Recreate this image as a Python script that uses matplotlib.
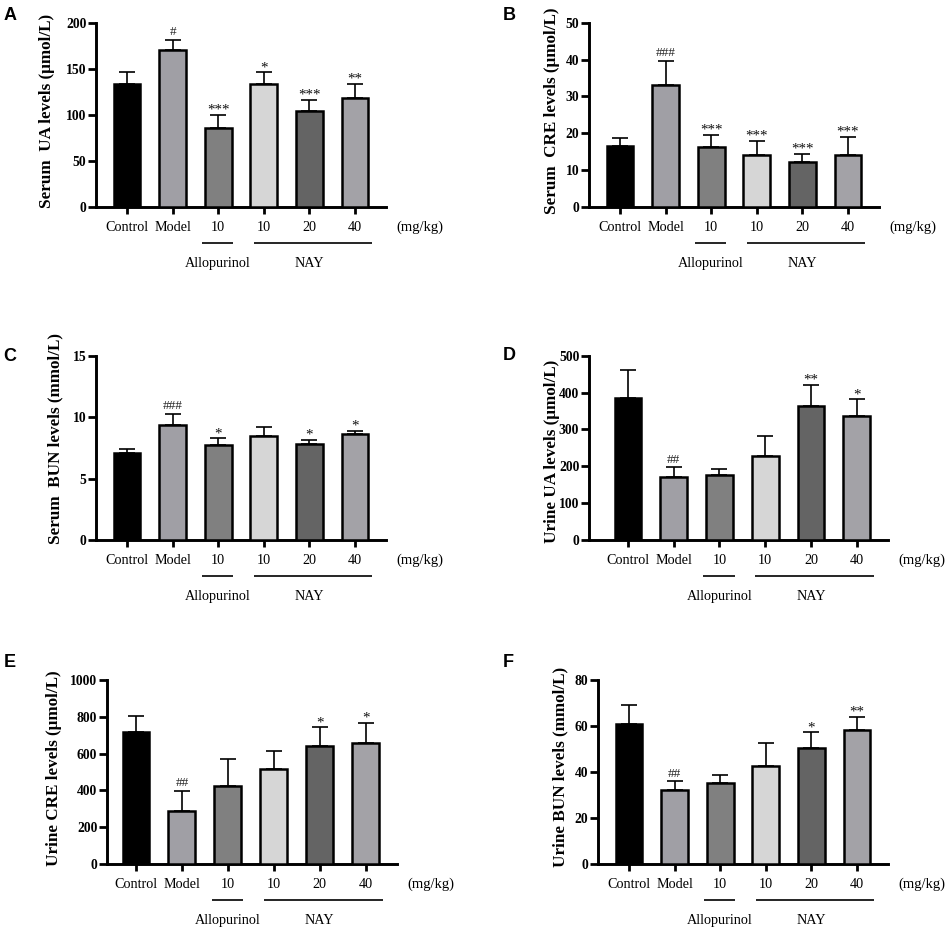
import matplotlib
matplotlib.use("Agg")
import matplotlib.pyplot as plt
from matplotlib.transforms import offset_copy

plt.rcParams['font.family'] = ['Liberation Serif', 'DejaVu Serif']

groups = ["Control", "Model", "10", "10", "20", "40"]
bar_colors = ["#000000", "#a09fa5", "#808080", "#d6d6d6", "#646464", "#a3a2a7"]

A_mean = [134, 170, 86, 133, 104, 118]
A_err = [13, 11, 14, 13, 12, 16]
A_sig = ["", "#", "***", "*", "***", "**"]

B_mean = [16.5, 33.2, 16.2, 14.2, 12.3, 14.2]
B_err = [2.1, 6.4, 3.4, 3.8, 2.1, 4.9]
B_sig = ["", "###", "***", "***", "***", "***"]

C_mean = [7.05, 9.4, 7.7, 8.5, 7.78, 8.62]
C_err = [0.32, 0.84, 0.57, 0.7, 0.35, 0.27]
C_sig = ["", "###", "*", "", "*", "*"]

D_mean = [386, 172, 177, 228, 363, 337]
D_err = [74, 25, 16, 55, 58, 45]
D_sig = ["", "##", "", "", "**", "*"]

E_mean = [720, 289, 423, 517, 642, 658]
E_err = [85, 109, 150, 98, 101, 110]
E_sig = ["", "##", "", "", "*", "*"]

F_mean = [60.9, 32.1, 35.2, 42.8, 50.5, 58.3]
F_err = [8.1, 3.8, 3.7, 10.0, 6.7, 5.8]
F_sig = ["", "##", "", "", "*", "**"]

W, H = 948, 930
fig = plt.figure(figsize=(W / 100, H / 100), dpi=100)

panels = [
    # letter, mean, err, sig, ylabel, ymax, step, (left,right,top,bottom px), xleft, ylab_off, ylab_y, letter pos
    ("A", A_mean, A_err, A_sig, "Serum  UA levels (\u03bcmol/L)", 200, 50, (96, 386, 22.7, 207), -0.68, 49, 0.52, (10, 20)),
    ("B", B_mean, B_err, B_sig, "Serum  CRE levels (\u03bcmol/L)", 50, 10, (589, 879, 22.7, 207), -0.68, 37, 0.52, (509, 19.5)),
    ("C", C_mean, C_err, C_sig, "Serum  BUN levels (mmol/L)", 15, 5, (96, 386, 355.7, 540), -0.68, 41, 0.55, (10, 361)),
    ("D", D_mean, D_err, D_sig, "Urine UA levels (\u03bcmol/L)", 500, 100, (589, 888, 355.7, 540), -0.85, 37, 0.48, (509, 360)),
    ("E", E_mean, E_err, E_sig, "Urine CRE levels (\u03bcmol/L)", 1000, 200, (107, 397, 680, 864), -0.63, 53, 0.52, (10, 667)),
    ("F", F_mean, F_err, F_sig, "Urine BUN levels (mmol/L)", 80, 20, (598, 888, 680, 864), -0.68, 38, 0.53, (508, 667)),
]

x = list(range(len(groups)))

for (letter, mean, err, sig, ylab, ymax, step, box, xleft, yoff, ylaby, lpos) in panels:
    l, r, t, b = box
    ax = fig.add_axes([l / W, 1 - b / H, (r - l) / W, (b - t) / H])
    ax.bar(x, mean, width=0.585, color=bar_colors, edgecolor="black", linewidth=1.8, zorder=3)
    ax.errorbar(x, mean, yerr=[[0] * len(mean), err], fmt="none", ecolor="black",
                elinewidth=1.2, capsize=6, capthick=1.2, zorder=2)
    ax.set_xlim(xleft, 5.68)
    ax.set_ylim(0, ymax)
    ax.set_yticks(list(range(0, ymax + 1, step)))
    for sp in ["top", "right"]:
        ax.spines[sp].set_visible(False)
    for sp in ["left", "bottom"]:
        ax.spines[sp].set_linewidth(2.1)
        ax.spines[sp].set_capstyle("projecting")
    ax.tick_params(axis="y", length=5.5, width=2.0, labelsize=9.8, pad=1.5)
    ax.tick_params(axis="x", length=5, width=2.0)
    for lab in ax.get_yticklabels():
        lab.set_fontweight("bold")
    ax.set_xticks(x)
    ax.set_xticklabels([""] * len(x))
    ax.set_ylabel(ylab, fontsize=12.3, fontweight="bold", va="center")
    ax.yaxis.set_label_coords(-yoff / (r - l), ylaby)

    xt = ax.get_xaxis_transform()
    tr20 = offset_copy(xt, fig=fig, y=-20, units="dots")
    tr36 = offset_copy(xt, fig=fig, y=-36, units="dots")
    tr56 = offset_copy(xt, fig=fig, y=-56, units="dots")
    for xi, g in zip(x, groups):
        ax.text(xi, 0, g, transform=tr20, ha="center", va="center", fontsize=10.2, clip_on=False)
    ax.text(5.9, 0, "(mg/kg)", transform=tr20, ha="left", va="center", fontsize=10.5, clip_on=False)
    ax.plot([1.65, 2.33], [0, 0], transform=tr36, color="black", lw=1.2, clip_on=False, solid_capstyle="butt")
    ax.plot([2.78, 5.37], [0, 0], transform=tr36, color="black", lw=1.2, clip_on=False, solid_capstyle="butt")
    ax.text(2.0, 0, "Allopurinol", transform=tr56, ha="center", va="center", fontsize=10.2, clip_on=False)
    ax.text(4.0, 0, "NAY", transform=tr56, ha="center", va="center", fontsize=10.2, clip_on=False)

    for xi, m, e, s in zip(x, mean, err, sig):
        if not s:
            continue
        if s.startswith("#"):
            ax.annotate(s, (xi, m + e), xytext=(0, 3.5), textcoords="offset points",
                        ha="center", va="baseline", fontsize=9.5, color="#222222")
        else:
            ax.annotate(s, (xi, m + e), xytext=(0, 0.8), textcoords="offset points",
                        ha="center", va="baseline", fontsize=10.8, color="#111111")

    fig.text(lpos[0] / W, 1 - lpos[1] / H, letter, ha="center", va="baseline",
             fontsize=13, fontweight="bold", family=["Liberation Sans", "DejaVu Sans"])

fig.savefig("out.png", dpi=100, facecolor="white")
